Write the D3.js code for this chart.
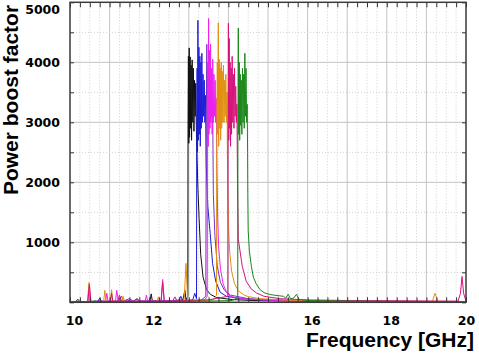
<!DOCTYPE html>
<html>
<head>
<meta charset="utf-8">
<script src="https://cdn.jsdelivr.net/npm/d3@7"></script>
<style>
  body { margin: 0; background: #fff; }
  .tick text { font-family: "DejaVu Sans", Verdana, sans-serif; font-weight: bold; font-size: 12.5px; fill: #000; }
  .axis-title { font-family: "Liberation Sans", Arial, sans-serif; font-weight: bold; font-size: 21px; fill: #000; }
</style>
</head>
<body>
<script>
// DATA: [frequency GHz, power boost factor]
const blackPts = [[10, 10], [10.15, 15], [10.2, 50], [10.25, 10], [10.7, 20], [11.0, 15], [11.6, 20], [11.7, 60], [11.75, 15],
  [12.02, 20], [12.05, 140], [12.08, 20], [12.5, 25], [12.85, 40], [12.9, 200], [12.93, 40], [12.975, 100],
  [12.98, 2900], [12.99, 4100], [13.0, 2650], [13.01, 4240], [13.02, 2750], [13.035, 4090], [13.045, 2900], [13.06, 3950],
  [13.07, 2700], [13.085, 4040], [13.1, 3000], [13.115, 3900], [13.13, 2850], [13.145, 3700], [13.16, 3100], [13.175, 3650],
  [13.19, 2950], [13.2, 2600], [13.23, 1900], [13.26, 1400], [13.3, 800], [13.36, 420], [13.45, 210], [13.55, 130],
  [13.7, 80], [14.1, 45], [14.6, 30], [15.5, 20], [17.0, 15], [20, 10]];

const bluePts = [[10, 5], [10.7, 10], [10.75, 70], [10.8, 10], [11.4, 15], [11.45, 50], [11.5, 10], [12.3, 20], [12.75, 30],
  [12.8, 100], [12.85, 20], [13.1, 40], [13.15, 150], [13.195, 60],
  [13.2, 2600], [13.21, 3900], [13.22, 2500], [13.23, 4700], [13.24, 2700], [13.255, 4250], [13.265, 2800], [13.28, 4100],
  [13.29, 2600], [13.305, 4000], [13.315, 2900], [13.33, 4150], [13.345, 3000], [13.36, 3800], [13.375, 3100], [13.39, 3700],
  [13.405, 3000], [13.42, 3450], [13.44, 2300], [13.48, 1600], [13.54, 1150], [13.6, 650], [13.68, 350], [13.79, 170],
  [13.95, 100], [14.3, 60], [15.0, 35], [17.0, 20], [20, 10]];

const purplePts = [[10, 10], [11.2, 20], [11.3, 100], [11.35, 20], [11.5, 60], [11.6, 20], [12.6, 30], [12.65, 90], [12.7, 25],
  [13.3, 30], [13.43, 100], [13.44, 2800], [13.455, 4300], [13.47, 2700], [13.485, 3900], [13.5, 2900], [13.52, 4000],
  [13.54, 3000], [13.56, 3700], [13.58, 3100], [13.6, 3400], [13.62, 1800], [13.66, 1100], [13.72, 600], [13.8, 330],
  [13.9, 200], [14.05, 120], [14.5, 60], [15.5, 30], [17.5, 20], [20, 10]];

const magentaPts = [[10, 5], [10.45, 10], [10.48, 250], [10.51, 10], [10.9, 20], [10.93, 150], [10.96, 20], [11.15, 20],
  [11.18, 200], [11.22, 20], [11.9, 20], [11.93, 120], [11.96, 20], [12.3, 20], [12.34, 380], [12.38, 20], [12.9, 30],
  [13.4, 40], [13.465, 100],
  [13.47, 2700], [13.48, 4000], [13.49, 2600], [13.5, 4730], [13.51, 2800], [13.525, 4200], [13.535, 2900], [13.55, 4300],
  [13.56, 3000], [13.575, 3900], [13.59, 2800], [13.605, 4050], [13.62, 3000], [13.635, 3800], [13.65, 3100], [13.665, 3700],
  [13.68, 3000], [13.695, 3400], [13.71, 2200], [13.73, 1400], [13.75, 950], [13.8, 550], [13.87, 300], [13.95, 170],
  [14.05, 100], [14.3, 60], [15.0, 35], [17.0, 20], [20, 10]];

const orangePts = [[10, 10], [10.44, 10], [10.48, 330], [10.52, 10], [10.85, 15], [10.88, 200], [10.91, 15], [11.02, 15],
  [11.05, 210], [11.08, 15], [11.3, 15], [11.34, 100], [11.38, 15], [12.2, 15], [12.23, 90], [12.26, 15], [12.88, 15],
  [12.93, 650], [12.97, 20], [13.3, 30], [13.62, 40], [13.7, 120],
  [13.705, 2700], [13.72, 4000], [13.73, 2800], [13.745, 4660], [13.755, 2600], [13.77, 4050], [13.78, 2900], [13.795, 3900],
  [13.805, 2700], [13.82, 4000], [13.83, 2900], [13.845, 3850], [13.86, 3000], [13.875, 3950], [13.89, 3000], [13.905, 3700],
  [13.92, 3100], [13.935, 3800], [13.95, 3000], [13.965, 3500], [13.98, 2000], [14.0, 1300], [14.03, 870], [14.08, 520],
  [14.15, 320], [14.25, 190], [14.4, 120], [14.5, 95], [14.8, 60], [15.5, 35], [17.0, 20], [19.15, 15], [19.22, 150],
  [19.29, 15], [20, 10]];

const crimsonPts = [[10, 10], [10.45, 10], [10.49, 300], [10.53, 10], [11.02, 15], [11.05, 150], [11.08, 15], [11.2, 15],
  [11.25, 120], [11.3, 15], [12.3, 15], [12.34, 330], [12.38, 15], [12.9, 30], [13.5, 40], [13.985, 100],
  [13.99, 2800], [14.0, 4650], [14.01, 2700], [14.02, 4400], [14.03, 2900], [14.045, 4000], [14.055, 2600], [14.07, 3900],
  [14.08, 2800], [14.095, 4100], [14.11, 3000], [14.125, 3800], [14.14, 2900], [14.155, 3900], [14.17, 3100], [14.185, 3600],
  [14.2, 3000], [14.215, 3300], [14.23, 2000], [14.25, 1050], [14.29, 870], [14.35, 600], [14.45, 350], [14.58, 220],
  [14.71, 155], [14.9, 100], [15.3, 60], [16.0, 40], [17.5, 25], [19.8, 20], [19.86, 150], [19.9, 430], [19.94, 150], [20, 20]];

const greenPts = [[10, 5], [10.6, 10], [10.63, 30], [10.66, 10], [11.5, 10], [12.5, 15], [13.5, 20], [14.1, 30], [14.235, 80],
  [14.24, 2900], [14.25, 4570], [14.26, 2800], [14.275, 4000], [14.285, 2700], [14.3, 3800], [14.31, 2950], [14.325, 3700],
  [14.34, 2800], [14.355, 3900], [14.37, 3000], [14.385, 3800], [14.4, 2900], [14.415, 4150], [14.43, 3100], [14.445, 3900],
  [14.46, 3000], [14.475, 3300], [14.485, 2500], [14.49, 1800], [14.5, 1200], [14.53, 850], [14.58, 600], [14.63, 420],
  [14.7, 310], [14.8, 210], [14.9, 160], [15.05, 130], [15.2, 115], [15.39, 100], [15.45, 70], [15.51, 135], [15.57, 60],
  [15.65, 70], [15.72, 135], [15.78, 50], [16.0, 30], [16.5, 25], [18.0, 15], [20, 10]];

const seriesList = [
  { name: "black", color: "#111111", pts: blackPts },
  { name: "blue", color: "#1c1cd8", pts: bluePts },
  { name: "purple", color: "#7a34c0", pts: purplePts },
  { name: "magenta", color: "#ee22ee", pts: magentaPts },
  { name: "orange", color: "#e0900f", pts: orangePts },
  { name: "crimson", color: "#d6127a", pts: crimsonPts },
  { name: "green", color: "#1c861c", pts: greenPts }
];

const xLabels = [10, 12, 14, 16, 18, 20];
const yLabels = [1000, 2000, 3000, 4000, 5000];

// LAYOUT
const W = 479, H = 356;
const plot = { left: 70, right: 466, top: 2.3, bottom: 302.3 };

const svg = d3.select("body").append("svg")
  .attr("width", W)
  .attr("height", H);

const x = d3.scaleLinear().domain([10, 20]).range([plot.left, plot.right]);
const y = d3.scaleLinear().domain([0, 5000]).range([plot.bottom, plot.top]);

// GRID
const grid = svg.append("g");
const minorX = d3.range(10, 20.001, 0.25).filter(d => Math.abs(d - Math.round(d)) > 0.01);
const majorX = d3.range(11, 20, 1);
grid.selectAll(".vminor").data(minorX).enter().append("line")
  .attr("x1", d => x(d)).attr("x2", d => x(d))
  .attr("y1", plot.top).attr("y2", plot.bottom)
  .attr("stroke", "#cfcfcf").attr("stroke-dasharray", "1,2");
grid.selectAll(".vmajor").data(majorX).enter().append("line")
  .attr("x1", d => x(d)).attr("x2", d => x(d))
  .attr("y1", plot.top).attr("y2", plot.bottom)
  .attr("stroke", "#c4c4c4");
grid.selectAll(".hminor").data([500, 1500, 2500, 3500, 4500]).enter().append("line")
  .attr("x1", plot.left).attr("x2", plot.right)
  .attr("y1", d => y(d)).attr("y2", d => y(d))
  .attr("stroke", "#cfcfcf").attr("stroke-dasharray", "1,2");
grid.selectAll(".hmajor").data([1000, 2000, 3000, 4000]).enter().append("line")
  .attr("x1", plot.left).attr("x2", plot.right)
  .attr("y1", d => y(d)).attr("y2", d => y(d))
  .attr("stroke", "#c4c4c4");

// LINES
svg.append("clipPath").attr("id", "clip")
  .append("rect")
  .attr("x", plot.left).attr("y", plot.top)
  .attr("width", plot.right - plot.left).attr("height", plot.bottom - plot.top);

const line = d3.line()
  .x(d => x(d[0]))
  .y(d => y(d[1]));

svg.append("g").attr("clip-path", "url(#clip)")
  .selectAll("path")
  .data(seriesList)
  .enter()
  .append("path")
  .attr("fill", "none")
  .attr("stroke", d => d.color)
  .attr("stroke-width", 1)
  .attr("stroke-linejoin", "round")
  .attr("d", d => line(d.pts));

// AXES (inward ticks on all four sides)
const allX = d3.range(10, 20.001, 0.25);
const allY = d3.range(0, 5001, 500);

function tickAxis(axis, translate) {
  const g = svg.append("g").attr("transform", translate).call(axis);
  g.select(".domain").remove();
  g.selectAll(".tick line").attr("stroke", "#333");
  return g;
}

const bottomAxis = tickAxis(
  d3.axisBottom(x).tickValues(allX).tickSizeInner(-5).tickSizeOuter(0).tickPadding(14)
    .tickFormat(d => xLabels.includes(d) ? d : ""),
  `translate(0,${plot.bottom})`);
bottomAxis.selectAll(".tick text").attr("dx", d => d === 20 ? 0 : 4);

tickAxis(d3.axisTop(x).tickValues(allX).tickSizeInner(-5).tickSizeOuter(0).tickFormat(""),
  `translate(0,${plot.top})`);

const leftAxis = tickAxis(
  d3.axisLeft(y).tickValues(allY).tickSizeInner(-4).tickSizeOuter(0).tickPadding(10)
    .tickFormat(d => yLabels.includes(d) ? d : ""),
  `translate(${plot.left},0)`);
leftAxis.selectAll(".tick text").filter(d => d === 5000).attr("y", 7);

tickAxis(d3.axisRight(y).tickValues(allY).tickSizeInner(-4).tickSizeOuter(0).tickFormat(""),
  `translate(${plot.right},0)`);

// FRAME
svg.append("rect")
  .attr("x", plot.left).attr("y", plot.top)
  .attr("width", plot.right - plot.left).attr("height", plot.bottom - plot.top)
  .attr("fill", "none")
  .attr("stroke", "#3a3a3a")
  .attr("stroke-width", 1.5);

// TITLES
svg.append("text")
  .attr("class", "axis-title")
  .attr("x", 306)
  .attr("y", 346.5)
  .text("Frequency [GHz]");

svg.append("text")
  .attr("class", "axis-title")
  .attr("transform", "rotate(-90)")
  .attr("x", -100)
  .attr("y", 17.5)
  .attr("text-anchor", "middle")
  .text("Power boost factor");
</script>
</body>
</html>
